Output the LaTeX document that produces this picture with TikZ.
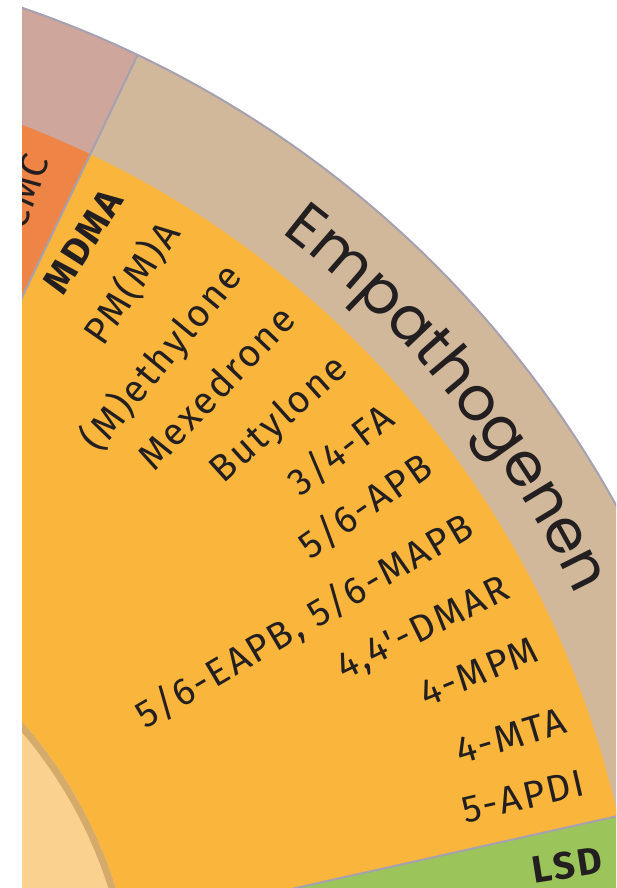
\documentclass[tikz,border=0pt]{standalone}
\usepackage{fontspec}
\setmainfont{Fira Sans}
\newfontfamily\lblfont[LetterSpace=6]{Fira Sans}
\newfontfamily\empfont{Poppins}
\usetikzlibrary{decorations.text}
\definecolor{pinkc}{HTML}{CEA69B}
\definecolor{tanc}{HTML}{D1B89A}
\definecolor{cmcc}{HTML}{EE8446}
\definecolor{orangec}{HTML}{F9B53C}
\definecolor{peachc}{HTML}{FAD18F}
\definecolor{ringc}{HTML}{D5AB6C}
\definecolor{greenc}{HTML}{9BC45A}
\definecolor{sepc}{HTML}{A5A1B0}
\definecolor{inkc}{HTML}{231F20}
\begin{document}
\begin{tikzpicture}[x=1pt,y=1pt,
  sepline/.style={draw=sepc,line width=2pt},
  lbl/.style={text=inkc,inner sep=0pt,anchor=mid east,font=\lblfont\fontsize{38}{40}\selectfont},
  lblb/.style={lbl,font=\lblfont\bfseries\fontsize{38}{40}\selectfont}]
\useasboundingbox (0,0) rectangle (616,-888);
\coordinate (C) at (-326,-1027);
\begin{scope}
\clip (22,0) rectangle (616,-888);
% outer band
\fill[pinkc] (C) -- ++(64.5:1077) arc[start angle=64.5,end angle=100,radius=1077] -- cycle;
\fill[tanc] (C) -- ++(0:1077) arc[start angle=0,end angle=64.5,radius=1077] -- cycle;
% middle band
\fill[cmcc] (C) -- ++(64.5:967) arc[start angle=64.5,end angle=100,radius=967] -- cycle;
\fill[orangec] (C) -- ++(12.6:967) arc[start angle=12.6,end angle=64.5,radius=967] -- cycle;
\fill[greenc] (C) -- ++(0:967) arc[start angle=0,end angle=12.6,radius=967] -- cycle;
% inner circle
\fill[peachc] (C) circle[radius=463];
\draw[ringc,line width=7pt] (C) circle[radius=459.5];
% separators
\path (C) ++(64.5:463) coordinate (s1a);
\path (C) ++(64.5:1077) coordinate (s1b);
\path (C) ++(12.6:463) coordinate (s2a);
\path (C) ++(12.6:1077) coordinate (s2b);
\draw[sepline] (s1a) -- (s1b);
\draw[sepline] (s2a) -- (s2b);
\draw[sepline] (C) ++(0:1077) coordinate (oa) arc[start angle=0,end angle=100,radius=1077];
% category label along the arc
\path[decorate,decoration={text along path,text align=left,
  text={|\empfont\fontsize{61}{61}\selectfont\color{inkc}|Empathogenen}}]
  (C) ++(52.6:1000) arc[start angle=52.6,end angle=8,radius=1000];
% substance labels
\node[lbl,rotate=70] (cmc) at ([shift={(66.7:945)}]C) {CMC};
\node[lblb,rotate=57.5] (mdma) at ([shift={(61.55:942)}]C) {MDMA};
\node[lbl,rotate=55.5] (pmma) at ([shift={(57.55:942)}]C) {PM(M)A};
\node[lbl,rotate=50.5] (methylone) at ([shift={(52.9:942)}]C) {(M)ethylone};
\node[lbl,rotate=46.5] (mexedrone) at ([shift={(48.7:942)}]C) {Mexedrone};
\node[lbl,rotate=42] (butylone) at ([shift={(44.3:942)}]C) {Butylone};
\node[lbl,rotate=37.5] (fa) at ([shift={(40.0:942)}]C) {3/4-FA};
\node[lbl,rotate=35] (apb) at ([shift={(36.2:942)}]C) {5/6-APB};
\node[lbl,rotate=30.5] (eapb) at ([shift={(31.7:942)}]C) {5/6-EAPB, 5/6-MAPB};
\node[lbl,rotate=26.3] (dmar) at ([shift={(27.3:942)}]C) {4,4'-DMAR};
\node[lbl,rotate=22.3] (mpm) at ([shift={(23.1:942)}]C) {4-MPM};
\node[lbl,rotate=16.5] (mta) at ([shift={(18.4:942)}]C) {4-MTA};
\node[lbl,rotate=13] (apdi) at ([shift={(14.4:942)}]C) {5-APDI};
\node[lblb,rotate=9] (lsd) at ([shift={(9.6:943)}]C) {LSD};
\end{scope}
\end{tikzpicture}
\end{document}
